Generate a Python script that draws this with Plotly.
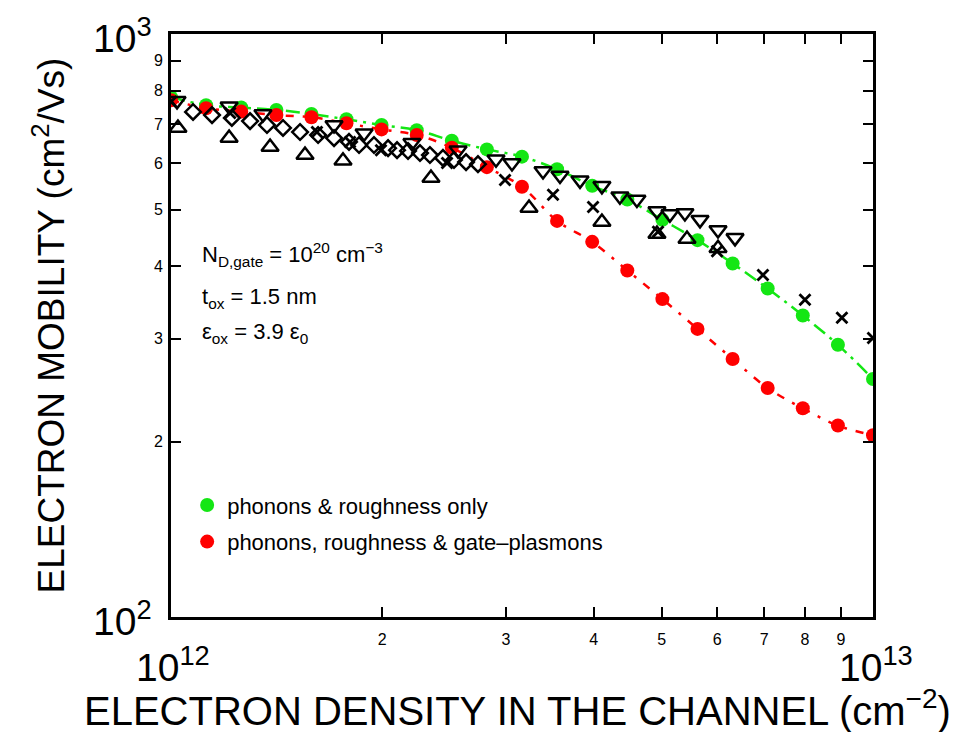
import plotly.graph_objects as go

# ---- simulated mobility (21 densities, 0.05-decade steps from 1e12 to 1e13) ----
ns_sim = [1.0e12, 1.122e12, 1.259e12, 1.413e12, 1.585e12, 1.778e12, 1.995e12,
          2.239e12, 2.512e12, 2.818e12, 3.162e12, 3.548e12, 3.981e12, 4.467e12,
          5.012e12, 5.623e12, 6.310e12, 7.079e12, 7.943e12, 8.913e12, 1.0e13]
mu_phonon_rough = [779, 755, 748, 741, 729, 714, 698, 684, 656, 634, 616,
                   586, 549, 520, 480, 443, 404, 366, 329, 293, 256]
mu_with_plasmons = [770, 746, 736, 726, 720, 703, 686, 671, 638, 591, 547,
                    478, 440, 393, 351, 312, 277, 247, 228, 213, 205]

# ---- experimental data sets ----
ns_tri_up = [1.023e12, 1.21e12, 1.384e12, 1.552e12, 1.758e12, 2.346e12,
             3.236e12, 4.11e12, 4.923e12, 5.433e12, 6.015e12]
mu_tri_up = [690, 663, 640, 620, 606, 566, 503, 476, 454, 445, 429]

ns_tri_down = [1.020e12, 1.21e12, 1.352e12, 1.707e12, 1.884e12, 2.204e12,
               2.564e12, 2.904e12, 3.06e12, 3.388e12, 3.582e12, 3.825e12,
               4.11e12, 4.36e12, 4.61e12, 4.923e12, 5.137e12, 5.396e12,
               5.67e12, 6.015e12, 6.36e12]
mu_tri_down = [768, 752, 729, 698, 676, 651, 632, 610, 601, 582, 572, 561,
               549, 527, 520, 497, 491, 493, 480, 461, 447]

ns_diamond = [1.075e12, 1.144e12, 1.221e12, 1.296e12, 1.370e12, 1.444e12,
              1.527e12, 1.620e12, 1.707e12, 1.793e12, 1.853e12, 1.946e12,
              2.038e12, 2.099e12, 2.176e12, 2.263e12, 2.338e12, 2.440e12,
              2.530e12, 2.632e12, 2.737e12]
mu_diamond = [735, 726, 718, 709, 698, 690, 679, 671, 663, 653, 645, 645,
              637, 632, 630, 625, 620, 613, 608, 603, 598]

ns_cross = [1.0e12, 1.214e12, 1.614e12, 1.799e12, 1.991e12, 2.473e12,
            2.991e12, 3.501e12, 3.992e12, 4.94e12, 5.996e12, 6.97e12,
            8.0e12, 9.03e12, 1.0e13]
mu_cross = [765, 732, 679, 653, 632, 601, 562, 530, 505, 458, 424, 386,
            350, 326, 301]

# ---- tick labels ----
x_minor_vals = [2e12, 3e12, 4e12, 5e12, 6e12, 7e12, 8e12, 9e12]
x_minor_text = ["2", "3", "4", "5", "6", "7", "8", "9"]
y_minor_vals = [200, 300, 400, 500, 600, 700, 800, 900]
y_minor_text = ["2", "3", "4", "5", "6", "7", "8", "9"]

GREEN = "#14e614"
RED = "#ff0000"
FONT = "Liberation Sans, Arial, sans-serif"

fig = go.Figure()

# model curves
fig.add_trace(go.Scatter(x=ns_sim, y=mu_phonon_rough, mode="lines",
                         line=dict(color=GREEN, width=2.5, shape="spline",
                                   dash="14px,6px,3px,6px"),
                         showlegend=False, hoverinfo="skip"))
fig.add_trace(go.Scatter(x=ns_sim, y=mu_with_plasmons, mode="lines",
                         line=dict(color=RED, width=2.5, shape="spline",
                                   dash="8px,9px,3px,9px"),
                         showlegend=False, hoverinfo="skip"))

# model points
fig.add_trace(go.Scatter(x=ns_sim, y=mu_phonon_rough, mode="markers",
                         name="phonons & roughness only", legendgroup="g1",
                         marker=dict(color=GREEN, size=14, line=dict(width=0))))
fig.add_trace(go.Scatter(x=ns_sim, y=mu_with_plasmons, mode="markers",
                         name="phonons, roughness & gate\u2013plasmons", legendgroup="g2",
                         marker=dict(color=RED, size=14, line=dict(width=0))))

# measurements
def exp_trace(x, y, symbol, size, width=2.5):
    return go.Scatter(x=x, y=y, mode="markers", showlegend=False,
                      marker=dict(symbol=symbol, size=size, color="black",
                                  line=dict(color="black", width=width)))

fig.add_trace(exp_trace(ns_diamond, mu_diamond, "diamond-open", 12))
fig.add_trace(exp_trace(ns_tri_up, mu_tri_up, "triangle-up-open", 15))
fig.add_trace(exp_trace(ns_tri_down, mu_tri_down, "triangle-down-open", 15))
fig.add_trace(exp_trace(ns_cross, mu_cross, "x-thin-open", 11, 2.8))

axis_common = dict(showline=True, linecolor="black", linewidth=3, mirror="allticks",
                   ticks="inside", ticklen=10, tickwidth=1.5, tickcolor="black",
                   showgrid=False, zeroline=False,
                   tickfont=dict(family=FONT, size=16, color="black"))

fig.update_xaxes(type="log", range=[12, 13], tickvals=x_minor_vals,
                 ticktext=x_minor_text, ticklabelstandoff=6, **axis_common)
fig.update_yaxes(type="log", range=[2, 3], tickvals=y_minor_vals,
                 ticktext=y_minor_text, ticklabelstandoff=2, **axis_common)

annotations = [
    # decade labels
    dict(text="10<sup>3</sup>", xref="paper", x=0, xanchor="right", xshift=-17,
         yref="y", y=3, yanchor="middle", yshift=-1, font=dict(size=39)),
    dict(text="10<sup>2</sup>", xref="paper", x=0, xanchor="right", xshift=-17,
         yref="y", y=2, yanchor="middle", yshift=-1, font=dict(size=39)),
    dict(text="10<sup>12</sup>", xref="x", x=12, xanchor="left", xshift=-37,
         yref="paper", y=0, yanchor="middle", yshift=-47, font=dict(size=39)),
    dict(text="10<sup>13</sup>", xref="x", x=13, xanchor="left", xshift=-36,
         yref="paper", y=0, yanchor="middle", yshift=-47, font=dict(size=39)),
    # axis titles
    dict(text="ELECTRON DENSITY IN THE CHANNEL (cm<sup>\u22122</sup>)",
         xref="paper", x=0.493, xanchor="center", yref="paper", y=0,
         yanchor="middle", yshift=-91, font=dict(size=40)),
    dict(text="ELECTRON MOBILITY (cm<sup>2</sup>/Vs)", textangle=-90,
         xref="paper", x=0, xanchor="center", xshift=-122,
         yref="paper", y=0.5, yanchor="middle", font=dict(size=37)),
    # device parameters
    dict(text="N<sub>D,gate</sub> = 10<sup>20</sup> cm<sup>\u22123</sup>",
         xref="paper", x=0.0413, xanchor="left", yref="paper", y=0.621,
         yanchor="middle", font=dict(size=22)),
    dict(text="t<sub>ox</sub> = 1.5 nm",
         xref="paper", x=0.0413, xanchor="left", yref="paper", y=0.547,
         yanchor="middle", font=dict(size=22)),
    dict(text="\u03b5<sub>ox</sub> = 3.9 \u03b5<sub>0</sub>",
         xref="paper", x=0.0413, xanchor="left", yref="paper", y=0.487,
         yanchor="middle", font=dict(size=22)),
]
for a in annotations:
    a["showarrow"] = False
    a["font"]["family"] = FONT
    a["font"]["color"] = "black"

fig.update_layout(
    width=970, height=732,
    margin=dict(l=171, r=97, t=34, b=115),
    paper_bgcolor="white", plot_bgcolor="white",
    font=dict(family=FONT, color="black"),
    annotations=annotations,
    legend=dict(x=0.023, y=0.16, xanchor="left", yanchor="middle",
                bgcolor="rgba(0,0,0,0)", borderwidth=0,
                font=dict(family=FONT, size=22, color="black"),
                traceorder="grouped", tracegroupgap=5, itemwidth=30),
)

fig.write_html("out.html")
